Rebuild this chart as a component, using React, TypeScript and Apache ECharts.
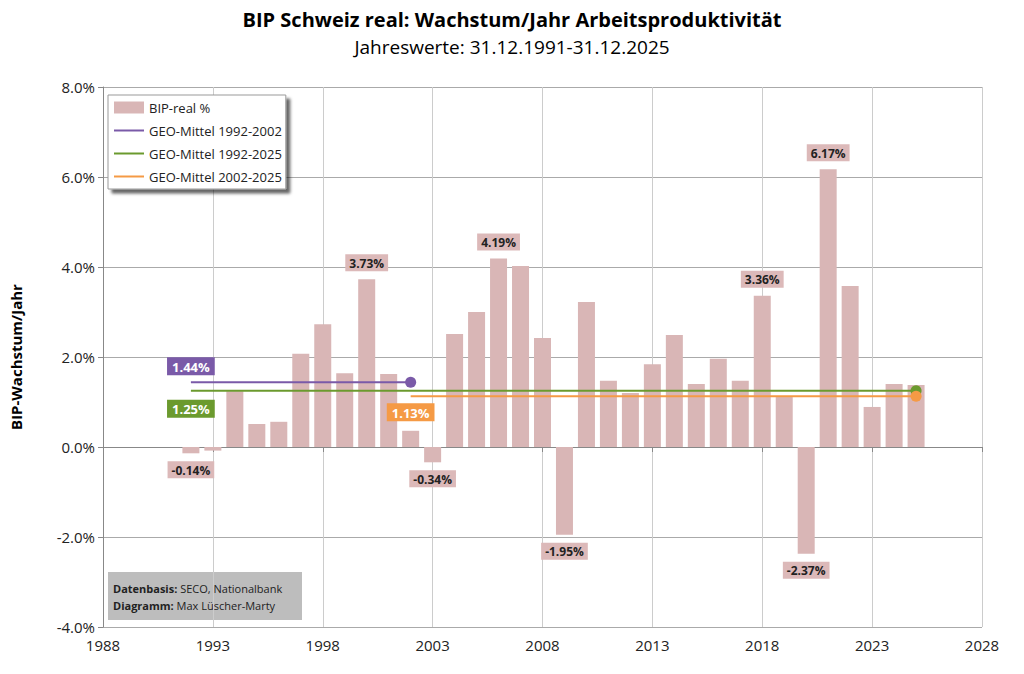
import { useEffect, useRef } from "react";
import * as echarts from "echarts";

const years = [
  1992, 1993, 1994, 1995, 1996, 1997, 1998, 1999, 2000, 2001, 2002, 2003, 2004,
  2005, 2006, 2007, 2008, 2009, 2010, 2011, 2012, 2013, 2014, 2015, 2016, 2017,
  2018, 2019, 2020, 2021, 2022, 2023, 2024, 2025,
];
const growth = [
  -0.14, -0.08, 1.24, 0.51, 0.56, 2.07, 2.73, 1.64, 3.73, 1.62, 0.36, -0.34, 2.51,
  3.0, 4.19, 4.02, 2.42, -1.95, 3.22, 1.47, 1.2, 1.84, 2.49, 1.4, 1.96, 1.47,
  3.36, 1.11, -2.37, 6.17, 3.58, 0.89, 1.4, 1.38,
];
const labelledYears = [1992, 2000, 2003, 2006, 2009, 2018, 2020, 2021];

const mean9202 = 1.44;
const mean9225 = 1.25;
const mean0225 = 1.13;

const font = "'Open Sans', 'DejaVu Sans', sans-serif";
const lineIcon = "path://M0,0 L30,0 L30,2 L0,2 Z";

export default function App() {
  const chartRef = useRef<HTMLDivElement>(null);

  useEffect(() => {
    const chart = echarts.init(chartRef.current, null, { renderer: "svg" });

    const barData = years.map((y, i) => {
      const v = growth[i];
      const item: any = { value: [y, v] };
      if (labelledYears.includes(y)) {
        item.label = {
          show: true,
          position: v < 0 ? "bottom" : "top",
          distance: 8,
          formatter: v.toFixed(2) + "%",
          backgroundColor: "#dcb9b9",
          padding: [3, 4, 2, 4],
          color: "#222",
          fontWeight: "bold",
          fontSize: 12,
          fontFamily: font,
        };
      }
      return item;
    });

    const meanLine = (
      name: string,
      from: number,
      to: number,
      v: number,
      color: string,
      labelPos: string,
      offsetY: number
    ) => ({
      name,
      type: "line",
      data: [
        {
          value: [from, v],
          symbolSize: 0,
          label: {
            show: true,
            position: labelPos,
            offset: [0, offsetY],
            formatter: v.toFixed(2) + "%",
            backgroundColor: color,
            color: "#fff",
            fontWeight: "bold",
            fontSize: 13,
            padding: [3, 5, 2, 5],
            fontFamily: font,
          },
        },
        { value: [to, v], symbolSize: 11 },
      ],
      symbol: "circle",
      lineStyle: { color, width: 2 },
      itemStyle: { color },
      z: 5,
    });

    chart.setOption({
      animation: false,
      textStyle: { fontFamily: font },
      title: {
        text: "BIP Schweiz real: Wachstum/Jahr Arbeitsproduktivität",
        subtext: "Jahreswerte: 31.12.1991-31.12.2025",
        left: "center",
        top: 4,
        itemGap: 8,
        textStyle: { fontSize: 20, fontWeight: "bold", color: "#000", fontFamily: font },
        subtextStyle: { fontSize: 19, color: "#000", fontFamily: font },
      },
      legend: {
        orient: "vertical",
        left: 108,
        top: 95,
        itemGap: 10,
        itemWidth: 30,
        itemHeight: 12,
        padding: [6, 4, 6, 6],
        backgroundColor: "#fff",
        borderColor: "#999",
        borderWidth: 1,
        shadowColor: "rgba(0,0,0,0.6)",
        shadowBlur: 3,
        shadowOffsetX: 4,
        shadowOffsetY: 4,
        textStyle: { fontSize: 13, color: "#222", fontFamily: font },
        data: [
          { name: "BIP-real %", icon: "rect" },
          { name: "GEO-Mittel 1992-2002", icon: lineIcon, itemStyle: { color: "#7a5aa8" } },
          { name: "GEO-Mittel 1992-2025", icon: lineIcon, itemStyle: { color: "#6b9a2e" } },
          { name: "GEO-Mittel 2002-2025", icon: lineIcon, itemStyle: { color: "#f59a45" } },
        ],
      },
      grid: { left: 100, right: 42, top: 87, bottom: 47 },
      xAxis: {
        type: "value",
        min: 1988,
        max: 2028,
        interval: 5,
        axisLine: { lineStyle: { color: "#888" } },
        axisTick: { show: true, lineStyle: { color: "#888" } },
        axisLabel: { fontSize: 15, color: "#222", margin: 10, formatter: (v: number) => String(v) },
        splitLine: { show: true, lineStyle: { color: "#ccc" } },
      },
      yAxis: {
        type: "value",
        min: -4,
        max: 8,
        interval: 2,
        name: "BIP-Wachstum/Jahr",
        nameLocation: "middle",
        nameGap: 80,
        nameTextStyle: { fontSize: 15, fontWeight: "bold", color: "#000" },
        axisLine: { show: true, lineStyle: { color: "#888" } },
        axisTick: { show: true, lineStyle: { color: "#888" } },
        axisLabel: { fontSize: 15, color: "#222", formatter: (v: number) => v.toFixed(1) + "%" },
        splitLine: { show: true, lineStyle: { color: "#aaa" } },
      },
      series: [
        {
          name: "BIP-real %",
          type: "bar",
          barWidth: 17,
          data: barData,
          itemStyle: { color: "#d9b6b6" },
        },
        meanLine("GEO-Mittel 1992-2002", 1992, 2002, mean9202, "#7a5aa8", "top", -2),
        meanLine("GEO-Mittel 1992-2025", 1992, 2025, mean9225, "#6b9a2e", "bottom", 4),
        meanLine("GEO-Mittel 2002-2025", 2002, 2025, mean0225, "#f59a45", "bottom", 2),
      ],
      graphic: [
        {
          type: "rect",
          left: 0,
          top: 0,
          shape: { width: 1022, height: 672 },
          style: { fill: "none", stroke: "#333", lineWidth: 1 },
          silent: true,
        },
        {
          type: "group",
          left: 108,
          top: 572,
          children: [
            { type: "rect", shape: { width: 194, height: 48 }, style: { fill: "#bdbdbd" } },
            {
              type: "text",
              x: 5,
              y: 8,
              style: {
                text: "{b|Datenbasis:} SECO, Nationalbank\n{b|Diagramm:} Max Lüscher-Marty",
                lineHeight: 17,
                fontSize: 11,
                fill: "#222",
                fontFamily: font,
                rich: { b: { fontWeight: "bold", fontSize: 11, fontFamily: font } },
              },
            },
          ],
        },
      ],
    });

    return () => chart.dispose();
  }, []);

  return <div ref={chartRef} style={{ width: 1024, height: 674, margin: -8 }} />;
}
